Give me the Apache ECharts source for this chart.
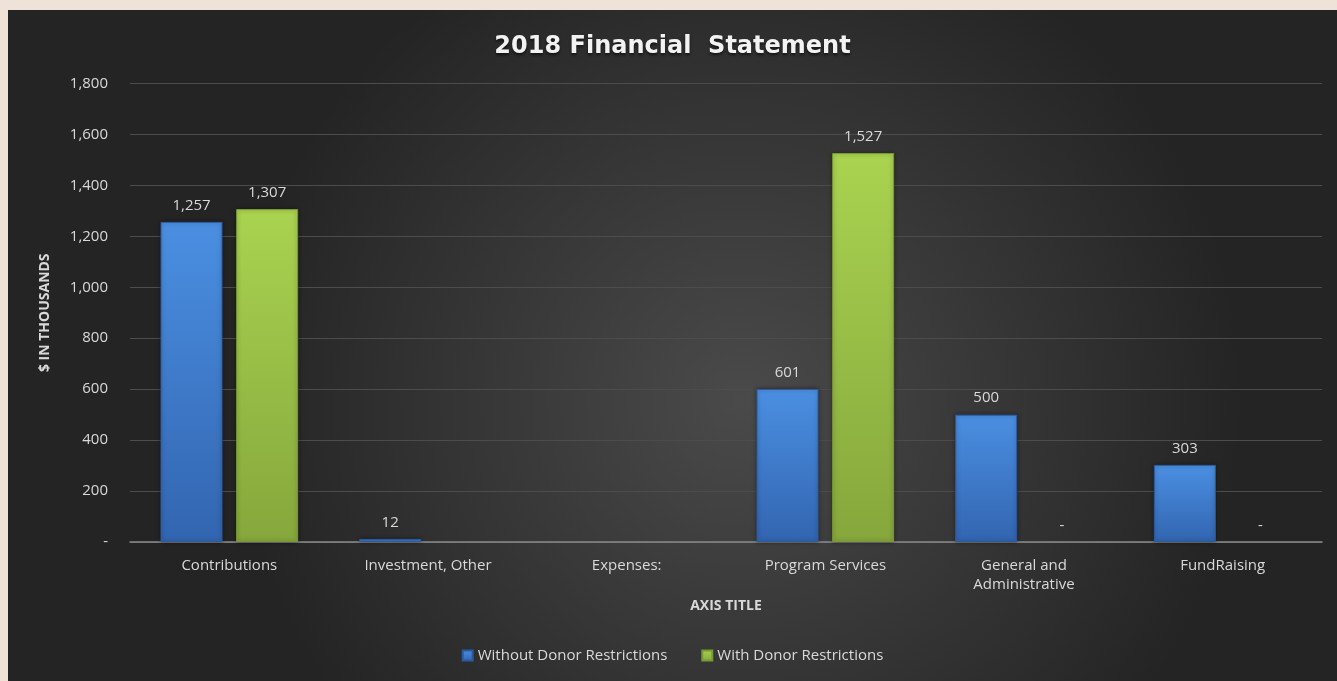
<!DOCTYPE html>
<html>
<head>
<meta charset="utf-8">
<script src="https://cdn.jsdelivr.net/npm/echarts@6/dist/echarts.min.js"></script>
<style>
html,body{margin:0;padding:0;width:1337px;height:681px;background:#efe3d8;overflow:hidden;}
#c{position:absolute;left:8px;top:10px;width:1329px;height:671px;}
</style>
</head>
<body>
<div id="c"></div>
<script>
const categories = ['Contributions', 'Investment, Other', 'Expenses:', 'Program Services', 'General and\nAdministrative', 'FundRaising'];
const withoutDonor = [1257, 12, null, 601, 500, 303];
const withDonor = [1307, null, null, 1527, 0, 0];
const yTicks = { min: 0, max: 1800, interval: 200 };

const fmt = v => (v === 0 ? '-' : v.toLocaleString('en-US'));
const FONT = '"Open Sans", sans-serif';
const TXT = '#d9d9d9';
const FS = 15;

const toItems = arr => arr.map(v => (v === 0
  ? { value: 0, itemStyle: { color: 'rgba(0,0,0,0)', borderWidth: 0, shadowBlur: 0 } }
  : v));

const barStyle = (top, bottom, border) => ({
  color: { type: 'linear', x: 0, y: 0, x2: 0, y2: 1,
    colorStops: [{ offset: 0, color: top }, { offset: 1, color: bottom }] },
  borderColor: border, borderWidth: 1,
  shadowColor: 'rgba(0,0,0,0.4)', shadowBlur: 4
});
const labelStyle = {
  show: true, position: 'top', distance: 9, color: TXT, fontFamily: FONT, fontSize: FS,
  formatter: p => fmt(p.value)
};

const chart = echarts.init(document.getElementById('c'));
chart.setOption({
  backgroundColor: {
    type: 'radial', x: 0.55, y: 0.58, r: 0.75,
    colorStops: [{ offset: 0, color: '#4a4a4a' }, { offset: 1, color: '#242424' }]
  },
  title: {
    text: '2018 Financial  Statement',
    left: 'center', top: 20,
    textStyle: { color: '#f2f2f2', fontFamily: '"DejaVu Sans", sans-serif', fontWeight: 'bold', fontSize: 24,
      textShadowColor: 'rgba(0,0,0,0.6)', textShadowBlur: 3, textShadowOffsetY: 2 }
  },
  legend: {
    bottom: 13, left: 'center', itemWidth: 10, itemHeight: 10, itemGap: 34,
    icon: 'rect',
    textStyle: { color: TXT, fontFamily: FONT, fontSize: FS },
    data: ['Without Donor Restrictions', 'With Donor Restrictions']
  },
  grid: { left: 122, right: 15, top: 73.5, bottom: 139, containLabel: false },
  xAxis: {
    type: 'category', data: categories,
    name: 'AXIS TITLE', nameLocation: 'middle', nameGap: 57,
    nameTextStyle: { color: TXT, fontFamily: FONT, fontWeight: 'bold', fontSize: 14 },
    axisLine: { lineStyle: { color: '#8a8a8a', width: 1.5 } },
    axisTick: { show: false },
    axisLabel: { color: TXT, fontFamily: FONT, fontSize: FS, margin: 14, lineHeight: 19, interval: 0 }
  },
  yAxis: {
    type: 'value', min: yTicks.min, max: yTicks.max, interval: yTicks.interval,
    name: '$ IN THOUSANDS', nameLocation: 'middle', nameGap: 78, nameRotate: 90,
    nameTextStyle: { color: TXT, fontFamily: FONT, fontWeight: 'bold', fontSize: 14 },
    axisLine: { show: false }, axisTick: { show: false },
    axisLabel: { color: TXT, fontFamily: FONT, fontSize: FS, margin: 22, formatter: fmt },
    splitLine: { lineStyle: { color: '#4c4c4c', width: 1 } }
  },
  series: [
    {
      name: 'Without Donor Restrictions', type: 'bar', data: toItems(withoutDonor),
      barWidth: 62, barGap: '22%',
      itemStyle: barStyle('#4b8fe2', '#3265b0', '#2c5a9e'),
      label: labelStyle
    },
    {
      name: 'With Donor Restrictions', type: 'bar', data: toItems(withDonor),
      barWidth: 62,
      itemStyle: barStyle('#a9d350', '#86a73c', '#7a9a34'),
      label: labelStyle
    }
  ]
});
</script>
</body>
</html>
